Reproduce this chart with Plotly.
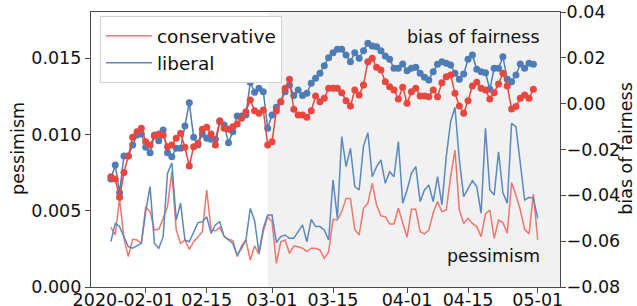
import pandas as pd
import plotly.graph_objects as go

# ---- data ----
bias_dates = pd.date_range("2020-01-24", periods=98, freq="D")
pess_dates = pd.date_range("2020-01-24", periods=99, freq="D")

bias_liberal = [
    -0.03286, -0.02675, -0.03882, -0.02282, -0.02282, -0.01802, -0.01366, -0.01322, -0.01904, -0.02137,
    -0.01366, -0.01613, -0.01148, -0.02137, -0.02311, -0.01948, -0.01948, -0.00973, 0.00045, -0.01468,
    -0.01802, -0.01322, -0.01511, -0.01555, -0.01555, -0.00784, -0.00929, -0.01700, -0.01220, -0.00537,
    -0.00537, -0.00493, 0.00932, 0.00496, 0.00671, 0.00525, -0.01075, -0.00493, -0.00159, 0.00089,
    0.00525, 0.00816, 0.00351, 0.00598, 0.00351, 0.00452, 0.00889, 0.01107, 0.01325, 0.01660,
    0.02009, 0.02227, 0.02372, 0.02372, 0.02125, 0.01834, 0.02227, 0.01980, 0.02314, 0.02634,
    0.02518, 0.02489, 0.02314, 0.02081, 0.01936, 0.01543, 0.01543, 0.01732, 0.01441, 0.01543,
    0.01587, 0.01325, 0.01151, 0.01034, 0.01398, 0.01718, 0.01834, 0.01761, 0.01689, 0.01325,
    0.01063, 0.01296, 0.01936, 0.02125, 0.01500, 0.01398, 0.01354, 0.00627, 0.01543, 0.01543,
    0.02052, 0.01063, 0.00961, 0.01252, 0.01732, 0.01543, 0.01761, 0.01718,
]
bias_conservative = [
    -0.03184, -0.03286, -0.04086, -0.03009, -0.02282, -0.01468, -0.01220, -0.01075, -0.01657, -0.01802,
    -0.01409, -0.01322, -0.01380, -0.01875, -0.01802, -0.01511, -0.01293, -0.01904, -0.02719, -0.01875,
    -0.01729, -0.01119, -0.01031, -0.01322, -0.01802, -0.00740, -0.01075, -0.01119, -0.01002, -0.00886,
    -0.00639, -0.00348, 0.00161, -0.00304, -0.00420, -0.00275, -0.01802, -0.01657, -0.00304, 0.00089,
    0.00671, 0.01063, -0.00246, -0.00493, -0.00493, -0.00595, -0.00304, 0.00336, 0.00089, 0.00234,
    0.00671, 0.00671, 0.00671, 0.00481, 0.00132, -0.00100, 0.00598, 0.00380, 0.00816, 0.01834,
    0.01980, 0.01587, 0.01471, 0.00961, 0.00743, 0.00598, 0.00205, 0.00714, 0.00016, 0.00525,
    0.00671, 0.00336, 0.00336, 0.00307, 0.00598, 0.00307, 0.00918, 0.01180, 0.01252, 0.00452,
    -0.00100, -0.00420, 0.00132, 0.00772, 0.00932, 0.00671, 0.00598, 0.00205, 0.00481, 0.00860,
    0.01325, 0.00772, -0.00231, -0.00129, 0.00234, 0.00380, 0.00234, 0.00627,
]
pess_liberal = [
    0.00297, 0.00417, 0.00396, 0.00326, 0.00264, 0.00254, 0.00269, 0.00286, 0.00494, 0.00658,
    0.00286, 0.00254, 0.00330, 0.00745, 0.00815, 0.00439, 0.00549, 0.00308, 0.00297, 0.00363,
    0.00422, 0.00428, 0.00461, 0.00352, 0.00407, 0.00428, 0.00330, 0.00308, 0.00286, 0.00210,
    0.00254, 0.00308, 0.00516, 0.00435, 0.00225, 0.00385, 0.00472, 0.00472, 0.00291, 0.00330,
    0.00341, 0.00319, 0.00319, 0.00363, 0.00407, 0.00297, 0.00444, 0.00396, 0.00396, 0.00374,
    0.00308, 0.00702, 0.00450, 0.00986, 0.00789, 0.00909, 0.00658, 0.00636, 0.00925, 0.01012,
    0.00723, 0.00789, 0.00833, 0.00680, 0.00756, 0.00723, 0.00953, 0.00549, 0.00636, 0.00745,
    0.00789, 0.00560, 0.00636, 0.00669, 0.00560, 0.00723, 0.00538, 0.00855, 0.01084, 0.01178,
    0.00833, 0.00592, 0.00647, 0.00697, 0.00658, 0.00483, 0.01040, 0.00636, 0.00603, 0.00887,
    0.00619, 0.00549, 0.01073, 0.01051, 0.00811, 0.00570, 0.00588, 0.00581, 0.00450,
]
pess_conservative = [
    0.00391, 0.00341, 0.00581, 0.00319, 0.00199, 0.00313, 0.00308, 0.00286, 0.00527, 0.00494,
    0.00374, 0.00378, 0.00450, 0.00527, 0.00756, 0.00374, 0.00286, 0.00308, 0.00247, 0.00297,
    0.00330, 0.00363, 0.00636, 0.00374, 0.00369, 0.00391, 0.00334, 0.00313, 0.00304, 0.00199,
    0.00269, 0.00308, 0.00177, 0.00269, 0.00216, 0.00363, 0.00461, 0.00428, 0.00155, 0.00297,
    0.00308, 0.00221, 0.00269, 0.00264, 0.00254, 0.00232, 0.00254, 0.00254, 0.00243, 0.00188,
    0.00232, 0.00444, 0.00439, 0.00494, 0.00581, 0.00581, 0.00378, 0.00341, 0.00516, 0.00549,
    0.00680, 0.00538, 0.00466, 0.00461, 0.00413, 0.00413, 0.00516, 0.00422, 0.00326, 0.00509,
    0.00509, 0.00363, 0.00348, 0.00374, 0.00487, 0.00560, 0.00494, 0.00505, 0.00723, 0.00898,
    0.00505, 0.00417, 0.00450, 0.00417, 0.00396, 0.00330, 0.00479, 0.00505, 0.00319, 0.00439,
    0.00422, 0.00352, 0.00684, 0.00603, 0.00505, 0.00378, 0.00348, 0.00610, 0.00308,
]

x_tick_vals = ["2020-02-01", "2020-02-15", "2020-03-01", "2020-03-15", "2020-04-01", "2020-04-15", "2020-05-01"]
x_tick_text = ["2020-02-01", "02-15", "03-01", "03-15", "04-01", "04-15", "05-01"]
left_tick_vals = [0.0, 0.005, 0.010, 0.015]
left_tick_text = ["0.000", "0.005", "0.010", "0.015"]
right_tick_vals = [-0.08, -0.06, -0.04, -0.02, 0.0, 0.02, 0.04]
right_tick_text = ["\u22120.08", "\u22120.06", "\u22120.04", "\u22120.02", "0.00", "0.02", "0.04"]

# ---- style ----
RED = "#e8473f"
BLUE = "#4d7cb6"
RED_L = "#f0766e"
BLUE_L = "#5b88bf"
AX = "#4a4a4a"
FONT = "DejaVu Sans"
FS = 17.5

# the first date label sits left of its tick in the reference: pad it on the right
shown_x_text = [x_tick_text[0] + "\u00a0" * 8] + x_tick_text[1:]

fig = go.Figure()
fig.add_trace(go.Scatter(x=pess_dates, y=pess_conservative, name="conservative", mode="lines",
                         line=dict(color=RED_L, width=1.5), yaxis="y"))
fig.add_trace(go.Scatter(x=pess_dates, y=pess_liberal, name="liberal", mode="lines",
                         line=dict(color=BLUE_L, width=1.5), yaxis="y"))
fig.add_trace(go.Scatter(x=bias_dates, y=bias_liberal, mode="lines+markers", showlegend=False,
                         line=dict(color=BLUE, width=1.5), marker=dict(color=BLUE, size=7), yaxis="y2"))
fig.add_trace(go.Scatter(x=bias_dates, y=bias_conservative, mode="lines+markers", showlegend=False,
                         line=dict(color=RED, width=1.5), marker=dict(color=RED, size=7), yaxis="y2"))

fig.add_shape(type="rect", xref="x", yref="paper", x0="2020-02-29", x1="2020-05-07", y0=0, y1=1,
              fillcolor="#f1f1f1", line=dict(width=0), layer="below")

fig.add_annotation(text="bias of fairness", xref="paper", yref="paper", x=0.962, y=0.909,
                   xanchor="right", yanchor="middle", showarrow=False, font=dict(size=FS, color="#111"))
fig.add_annotation(text="pessimism", xref="paper", yref="paper", x=0.962, y=0.113,
                   xanchor="right", yanchor="middle", showarrow=False, font=dict(size=FS, color="#111"))
fig.add_annotation(text="pessimism", xref="paper", yref="paper", x=-0.156, y=0.505, textangle=-90,
                   xanchor="center", yanchor="middle", showarrow=False, font=dict(size=FS, color="#111"))
fig.add_annotation(text="bias of fairness", xref="paper", yref="paper", x=1.14, y=0.505, textangle=-90,
                   xanchor="center", yanchor="middle", showarrow=False, font=dict(size=FS, color="#111"))

fig.update_layout(
    width=637, height=306,
    margin=dict(l=91, r=77, t=12, b=19, autoexpand=False),
    paper_bgcolor="white", plot_bgcolor="white",
    font=dict(family=FONT, size=FS, color="#111"),
    showlegend=True,
    legend=dict(x=0.019, y=0.985, xanchor="left", yanchor="top", bgcolor="white",
                bordercolor="#d0d0d0", borderwidth=1, font=dict(size=18.5), traceorder="normal",
                tracegroupgap=0, itemwidth=46),
    xaxis=dict(type="date", range=["2020-01-19 10:30", "2020-05-06 02:40"], tickvals=x_tick_vals,
               ticktext=shown_x_text, tickangle=0, automargin=False, showgrid=False, zeroline=False,
               showline=True, mirror=True, linecolor=AX, linewidth=1.2, ticks="outside", ticklen=5,
               tickcolor=AX, tickfont=dict(size=FS, color="#111"), ticklabelstandoff=-8),
    yaxis=dict(range=[0, 0.01803], tickvals=left_tick_vals, ticktext=left_tick_text, showgrid=False,
               automargin=False, zeroline=False, showline=True, linecolor=AX, linewidth=1.2,
               ticks="outside", ticklen=5, tickcolor=AX, tickfont=dict(size=FS, color="#111")),
    yaxis2=dict(range=[-0.08, 0.04], overlaying="y", side="right", tickvals=right_tick_vals,
                ticktext=right_tick_text, showgrid=False, automargin=False, zeroline=False,
                showline=True, linecolor=AX, linewidth=1.2, ticks="outside", ticklen=5,
                tickcolor=AX, tickfont=dict(size=FS, color="#111"), ticklabelstandoff=-3),
)

fig.write_html("out.html", config={"displayModeBar": False},
               post_script="document.body.style.margin='0px';document.body.style.overflow='hidden';")
